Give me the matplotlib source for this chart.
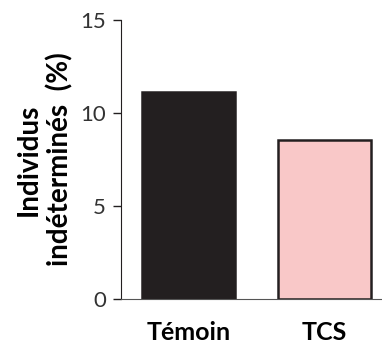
import numpy as np
import matplotlib.pyplot as plt

plt.rcParams['font.family'] = ['Lato', 'DejaVu Sans']

groupes = ["Témoin", "TCS"]
valeurs = [11.13, 8.55]
couleurs = ["#231f20", "#f9c8c8"]

fig = plt.figure(figsize=(3.82, 3.45), dpi=100)
ax = fig.add_axes([0.317, 0.133, 0.683, 0.809])

x = np.arange(len(groupes))
ax.bar(x, valeurs, width=0.68, color=couleurs, edgecolor="#231f20", linewidth=1.8)

ax.set_xlim(-0.496, 1.423)
ax.set_ylim(0, 15)
ax.set_yticks([0, 5, 10, 15])
ax.tick_params(axis='y', labelsize=16, labelcolor="#333333", length=6, width=1,
               color="#231f20", pad=5)
ax.tick_params(axis='x', length=0, pad=16)
ax.set_xticks(x)
ax.set_xticklabels(groupes, fontsize=18, fontweight='bold')

ax.spines['top'].set_visible(False)
ax.spines['right'].set_visible(False)
ax.spines['left'].set_color("#231f20")
ax.spines['bottom'].set_color("#555555")
ax.spines['bottom'].set_bounds(-0.496, 1.423)

ax.set_ylabel("Individus\nindéterminés  (%)", fontsize=20, fontweight='bold',
              linespacing=1.2, labelpad=5)

fig.savefig("out.png", dpi=100)
